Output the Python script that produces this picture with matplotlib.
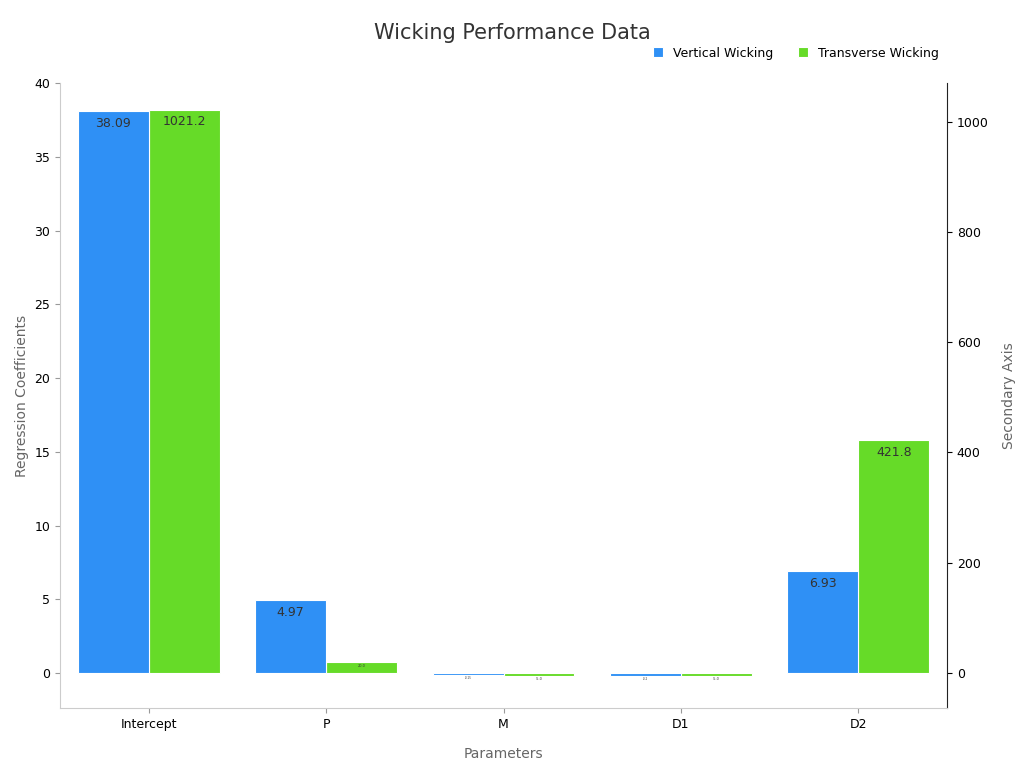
import matplotlib.pyplot as plt
import numpy as np

categories = ["Intercept", "P", "M", "D1", "D2"]
vertical = [38.09, 4.97, -0.15, -0.2, 6.93]
transverse = [1021.2, 20.0, -5.0, -5.0, 421.8]
vlabels = ["38.09", "4.97", "-0.15", "-0.2", "6.93"]
tlabels = ["1021.2", "20.0", "-5.0", "-5.0", "421.8"]

fig = plt.figure(figsize=(10.24, 7.68), dpi=100)
ax = fig.add_axes([60/1024, 1-708/768, (947-60)/1024, (708-83)/768])
ax2 = ax.twinx()
x = np.arange(len(categories))
w = 0.4
bv = ax.bar(x - w/2, vertical, w, color="#2f90f5", edgecolor="white", linewidth=0.8)
bt = ax2.bar(x + w/2, transverse, w, color="#66db28", edgecolor="white", linewidth=0.8)
ax.set_ylim(-2.37, 40)
ax2.set_ylim(-63.5, 1070)
ax.set_xlim(-0.5, 4.5)
ax.set_zorder(ax2.get_zorder() + 1)
ax.patch.set_visible(False)

for b, l, v in zip(bv, vlabels, vertical):
    big = abs(v) > 1
    ax.text(b.get_x() + b.get_width()/2, v - (0.4 if big else 0.05), l, ha="center", va="top",
            fontsize=9 if big else 2, color="#333333")
for b, l, v in zip(bt, tlabels, transverse):
    big = abs(v) > 50
    ax2.text(b.get_x() + b.get_width()/2, v - (10 if big else 3), l, ha="center", va="top",
             fontsize=9 if big else 2.5, color="#333333")

ax.set_xticks(x)
ax.set_xticklabels(categories, fontsize=9)
ax.set_yticks(range(0, 41, 5))
ax.tick_params(labelsize=9, color="#999999")
ax2.tick_params(labelsize=9)
ax2.set_yticks(range(0, 1001, 200))
for s in ["top"]:
    ax.spines[s].set_visible(False)
    ax2.spines[s].set_visible(False)
ax.spines["right"].set_visible(False)
ax.spines["left"].set_color("#cccccc")
ax.spines["bottom"].set_color("#cccccc")
ax2.spines["left"].set_visible(False)
ax2.spines["bottom"].set_visible(False)
ax2.spines["right"].set_color("#222222")

ax.set_xlabel("Parameters", fontsize=10, color="#666666", labelpad=12)
ax.set_ylabel("Regression Coefficients", fontsize=10, color="#666666")
ax2.set_ylabel("Secondary Axis", fontsize=10, color="#666666", labelpad=10)
fig.text(0.5, 1-33/768, "Wicking Performance Data", ha="center", va="center", fontsize=15, color="#333333")
fig.legend([bv, bt], ["Vertical Wicking", "Transverse Wicking"], loc="center right",
           bbox_to_anchor=(950/1024, 1-53/768), ncol=2, frameon=False, fontsize=9,
           handlelength=0.8, handleheight=0.8, columnspacing=2)
fig.savefig("out.png", dpi=100)
